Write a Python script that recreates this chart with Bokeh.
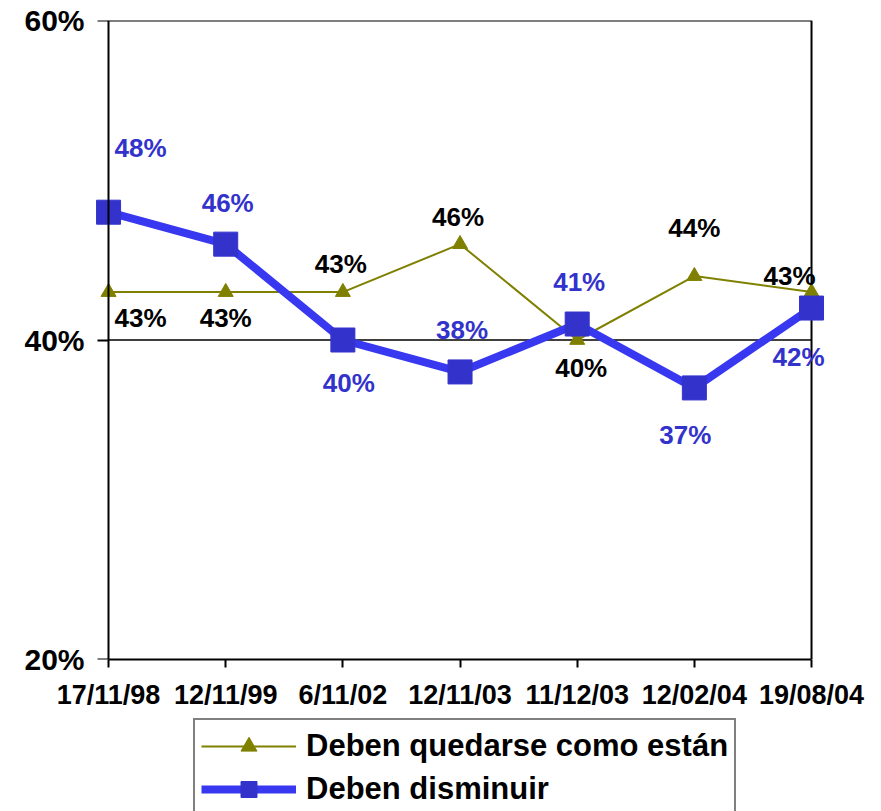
from bokeh.plotting import figure
from bokeh.models import FixedTicker, Legend, LegendItem, ColumnDataSource, LinearAxis
from bokeh.layouts import column
from bokeh.embed import file_html
from bokeh.resources import INLINE
from bokeh.core.properties import value

# ---- data ----
dates = ["17/11/98", "12/11/99", "6/11/02", "12/11/03", "11/12/03", "12/02/04", "19/08/04"]
quedarse = [43, 43, 43, 46, 40, 44, 43]
disminuir = [48, 46, 40, 38, 41, 37, 42]
y_ticks = [20, 40, 60]
y_tick_labels = ["20%", "40%", "60%"]
name_quedarse = "Deben quedarse como están"
name_disminuir = "Deben disminuir"

# label placement (screen px offsets from each point)
q_dx = [32, 0, -2, -2, 4, 0, -22]
q_dy = [26, 26, -28, -27, 28, -48, -16]
d_dx = [32, 2, 6, 2, 2, -9, -13]
d_dy = [-64, -41, 43, -42, -42, 47, 49]

FONT = "Liberation Sans"
OLIVE = "#808000"
BLUE_M = "#3333CC"
BLUE_L = "#3838F0"

xs = list(range(len(dates)))
x_first, x_last = xs[0], xs[-1]
pad_l, pad_r = 0.12, 0.162  # room around the end categories so markers/labels are not clipped

p = figure(width=865, height=712, x_range=(x_first - pad_l, x_last + pad_r),
           y_range=(y_ticks[0], y_ticks[-1]),
           output_backend="svg", toolbar_location=None,
           min_border_left=94, min_border_top=20, min_border_right=35, min_border_bottom=52)
p.background_fill_color = "white"
p.border_fill_color = "white"
p.outline_line_color = None
p.grid.visible = False

# y tick labels (axis at frame edge, labels only)
ylab = p.yaxis[0]
ylab.ticker = FixedTicker(ticks=y_ticks)
ylab.major_label_overrides = {t: l for t, l in zip(y_ticks, y_tick_labels)}
ylab.axis_line_color = None
ylab.major_tick_line_color = None
ylab.minor_tick_line_color = None
ylab.major_tick_out = 0
ylab.major_tick_in = 0
ylab.major_label_standoff = 10
ylab.major_label_text_font = FONT
ylab.major_label_text_font_style = "bold"
ylab.major_label_text_font_size = "30px"
ylab.major_label_text_color = "black"

# y axis line + ticks at the first category
yline = LinearAxis(ticker=FixedTicker(ticks=y_ticks), fixed_location=x_first,
                   major_label_overrides={t: "" for t in y_ticks},
                   major_label_text_font_size="1px", major_label_standoff=0,
                   axis_line_color="black", axis_line_width=2,
                   major_tick_line_color="black", major_tick_line_width=2,
                   major_tick_out=11, major_tick_in=0, minor_tick_line_color=None)
p.add_layout(yline, "left")

# x axis
xa = p.xaxis[0]
xa.ticker = FixedTicker(ticks=xs)
xa.major_label_overrides = {i: d for i, d in enumerate(dates)}
xa.bounds = (x_first, x_last)
xa.axis_line_color = "black"
xa.axis_line_width = 2
xa.major_tick_line_color = "black"
xa.major_tick_line_width = 2
xa.major_tick_in = 0
xa.major_tick_out = 8
xa.minor_tick_line_color = None
xa.major_label_standoff = 12
xa.major_label_text_font = FONT
xa.major_label_text_font_style = "bold"
xa.major_label_text_font_size = "27px"
xa.major_label_text_color = "black"

# plot-area frame: gridline at 40%, top line at 60%, right border at last category
p.segment(x0=[x_first], x1=[x_last], y0=[y_ticks[1]], y1=[y_ticks[1]], line_color="black", line_width=1.5)
p.segment(x0=[x_first], x1=[x_last], y0=[y_ticks[2]], y1=[y_ticks[2]], line_color="black", line_width=2)
p.segment(x0=[x_last], x1=[x_last], y0=[y_ticks[0]], y1=[y_ticks[2]], line_color="black", line_width=2)

# series
src = ColumnDataSource(dict(x=xs, q=quedarse, d=disminuir,
                            ql=[f"{v}%" for v in quedarse], dl=[f"{v}%" for v in disminuir],
                            qdx=q_dx, qdy=q_dy, ddx=d_dx, ddy=d_dy))

def draw_series(fig, visible=True):
    a = fig.line("x", "q", source=src, line_color=OLIVE, line_width=2, visible=visible)
    b = fig.scatter("x", "q", source=src, marker="triangle", size=15,
                    fill_color=OLIVE, line_color=OLIVE, visible=visible)
    c = fig.line("x", "d", source=src, line_color=BLUE_L, line_width=8, visible=visible)
    d = fig.scatter("x", "d", source=src, marker="square", size=24,
                    fill_color=BLUE_M, line_color=BLUE_M, visible=visible)
    return a, b, c, d

draw_series(p)

p.text("x", "q", text="ql", source=src, x_offset="qdx", y_offset="qdy",
       text_font=value(FONT), text_font_style="bold", text_font_size="26px",
       text_color="black", text_align="center", text_baseline="middle")
p.text("x", "d", text="dl", source=src, x_offset="ddx", y_offset="ddy",
       text_font=value(FONT), text_font_style="bold", text_font_size="26px",
       text_color=BLUE_M, text_align="center", text_baseline="middle")

# ---- legend strip ----
p2 = figure(width=865, height=99, x_range=(0, 1), y_range=(0, 1),
            output_backend="svg", toolbar_location=None,
            min_border=0, min_border_left=0, min_border_right=0, min_border_top=0, min_border_bottom=0)
p2.axis.visible = False
p2.grid.visible = False
p2.outline_line_color = None
p2.background_fill_color = "white"
p2.border_fill_color = "white"
ql, qm, dl, dm = draw_series(p2, visible=False)

legend = Legend(items=[LegendItem(label=name_quedarse, renderers=[ql, qm]),
                       LegendItem(label=name_disminuir, renderers=[dl, dm])],
                location=(99, -6))
legend.glyph_width = 95
legend.glyph_height = 40
legend.spacing = 3
legend.padding = 6
legend.margin = 0
legend.label_standoff = 10
legend.label_text_font = FONT
legend.label_text_font_style = "bold"
legend.label_text_font_size = "31px"
legend.label_text_color = "black"
legend.border_line_color = "black"
legend.border_line_width = 2
legend.background_fill_color = "white"
legend.background_fill_alpha = 1
legend.inactive_fill_alpha = 0
p2.add_layout(legend, "center")

layout = column(p, p2, spacing=0)
open("out.html", "w").write(file_html(layout, INLINE))
